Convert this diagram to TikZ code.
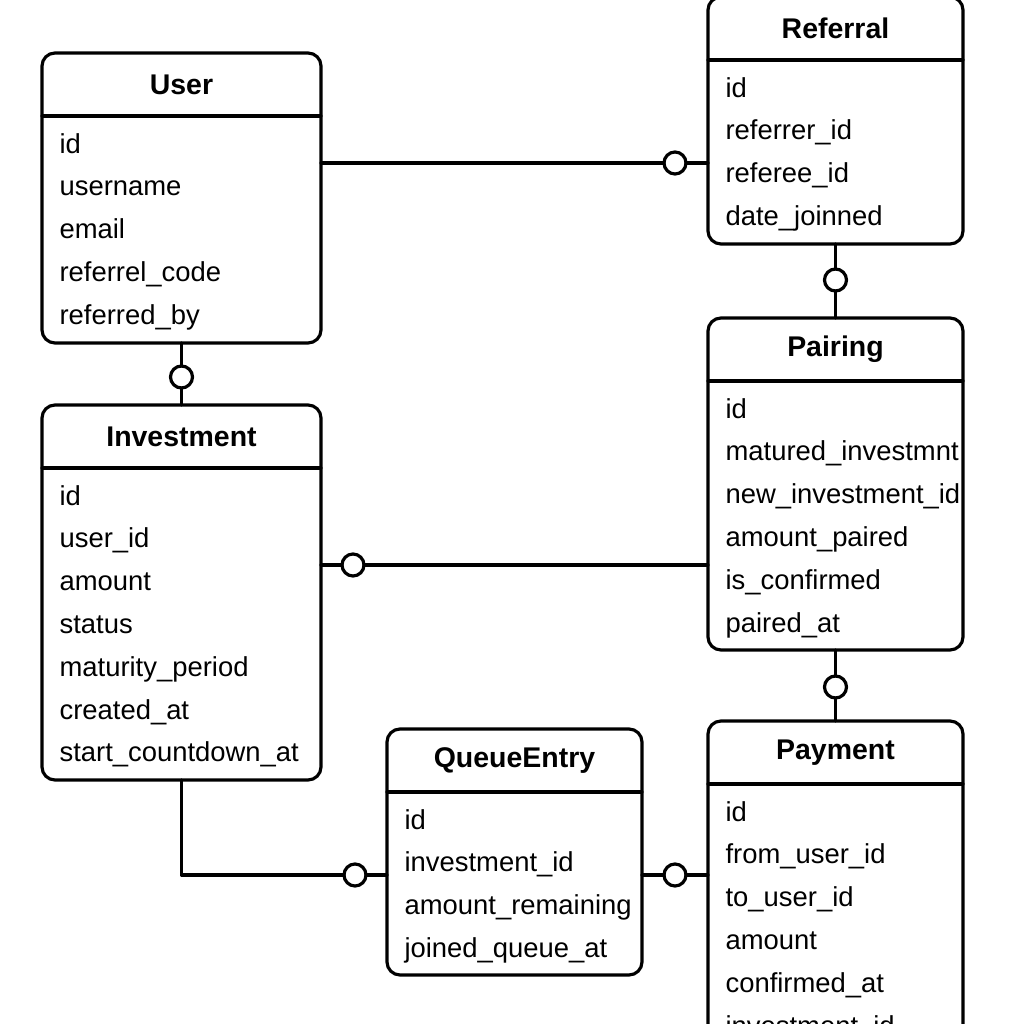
\documentclass[tikz,border=0pt]{standalone}
\usepackage{fontspec}
\setmainfont{Liberation Sans}
\usetikzlibrary{calc}
\tikzset{
	entity/.style={draw,rectangle,rounded corners=.13cm,line width=.9pt,anchor=north west,inner sep=0pt,outer sep=0pt},
	etitle/.style={font=\fontsize{8.1}{9.7}\selectfont\bfseries,inner sep=0pt},
	efield/.style={font=\fontsize{7.8}{9.4}\selectfont,anchor=west,inner sep=0pt,text height=.72em,text depth=.2em},
	zero/.style={circle,draw,fill=white,line width=.9pt,minimum size=.22cm,inner sep=0pt,outer sep=0pt}
}
\begin{document}
\begin{tikzpicture}[line join=round,line cap=round,line width=.9pt]
			\useasboundingbox (0,0) rectangle (10.24,10.24);
			\clip (0,0) rectangle (10.24,10.24);
			\def\hh{.63} \def\dy{.428}
			% User
			\node[entity,minimum width=2.79cm,minimum height=2.9cm] (user) at (0.42,9.71) {};
			\draw ($(user.north west)+(0,-\hh)$) -- ($(user.north east)+(0,-\hh)$);
			\node[etitle] at ($(user.north)+(0,-\hh/2)$) {User};
			\foreach \f [count=\i] in {id,username,email,referrel\_code,referred\_by}
				\node[efield] at ($(user.north west)+(.16,{-.91-\dy*(\i-1)})$) {\f};
			% Referral
			\node[entity,minimum width=2.55cm,minimum height=2.47cm] (referral) at (7.08,10.27) {};
			\draw ($(referral.north west)+(0,-\hh)$) -- ($(referral.north east)+(0,-\hh)$);
			\node[etitle] at ($(referral.north)+(0,-\hh/2)$) {Referral};
			\foreach \f [count=\i] in {id,referrer\_id,referee\_id,date\_joinned}
				\node[efield] at ($(referral.north west)+(.16,{-.91-\dy*(\i-1)})$) {\f};
			% Pairing
			\node[entity,minimum width=2.55cm,minimum height=3.32cm] (pairing) at (7.08,7.06) {};
			\draw ($(pairing.north west)+(0,-\hh)$) -- ($(pairing.north east)+(0,-\hh)$);
			\node[etitle] at ($(pairing.north)+(0,-\hh/2)$) {Pairing};
			\foreach \f [count=\i] in {id,matured\_investmnt,new\_investment\_id,amount\_paired,is\_confirmed,paired\_at}
				\node[efield] at ($(pairing.north west)+(.16,{-.91-\dy*(\i-1)})$) {\f};
			% Investment
			\node[entity,minimum width=2.79cm,minimum height=3.75cm] (investment) at (0.42,6.19) {};
			\draw ($(investment.north west)+(0,-\hh)$) -- ($(investment.north east)+(0,-\hh)$);
			\node[etitle] at ($(investment.north)+(0,-\hh/2)$) {Investment};
			\foreach \f [count=\i] in {id,user\_id,amount,status,maturity\_period,created\_at,start\_countdown\_at}
				\node[efield] at ($(investment.north west)+(.16,{-.91-\dy*(\i-1)})$) {\f};
			% QueueEntry
			\node[entity,minimum width=2.55cm,minimum height=2.46cm] (queue) at (3.87,2.95) {};
			\draw ($(queue.north west)+(0,-\hh)$) -- ($(queue.north east)+(0,-\hh)$);
			\node[etitle] at ($(queue.north)+(0,-\hh/2)$) {QueueEntry};
			\foreach \f [count=\i] in {id,investment\_id,amount\_remaining,joined\_queue\_at}
				\node[efield] at ($(queue.north west)+(.16,{-.91-\dy*(\i-1)})$) {\f};
			% Payment
			\node[entity,minimum width=2.55cm,minimum height=3.6cm] (payment) at (7.08,3.03) {};
			\draw ($(payment.north west)+(0,-\hh)$) -- ($(payment.north east)+(0,-\hh)$);
			\node[etitle] at ($(payment.north)+(0,-\hh/2)$) {Payment};
			\foreach \f [count=\i] in {id,from\_user\_id,to\_user\_id,amount,confirmed\_at,investment\_id}
				\node[efield] at ($(payment.north west)+(.16,{-.91-\dy*(\i-1)})$) {\f};
			% relations
			\node[zero] (o1) at (6.75,8.61) {};
			\node[zero] (o2) at (1.815,6.47) {};
			\node[zero] (o3) at (8.355,7.44) {};
			\node[zero] (o4) at (3.53,4.59) {};
			\node[zero] (o5) at (8.355,3.37) {};
			\node[zero] (o6) at (3.55,1.49) {};
			\node[zero] (o7) at (6.75,1.49) {};
			\draw (user.east |- o1) -- (o1) -- (o1 -| referral.west);
			\draw (o2 |- user.south) -- (o2) -- (o2 |- investment.north);
			\draw (o3 |- referral.south) -- (o3) -- (o3 |- pairing.north);
			\draw (investment.east |- o4) -- (o4) -- (o4 -| pairing.west);
			\draw (o5 |- pairing.south) -- (o5) -- (o5 |- payment.north);
			\draw (investment.south) |- (o6) -- (o6 -| queue.west);
			\draw (queue.east |- o7) -- (o7) -- (o7 -| payment.west);
	\end{tikzpicture}
\end{document}
